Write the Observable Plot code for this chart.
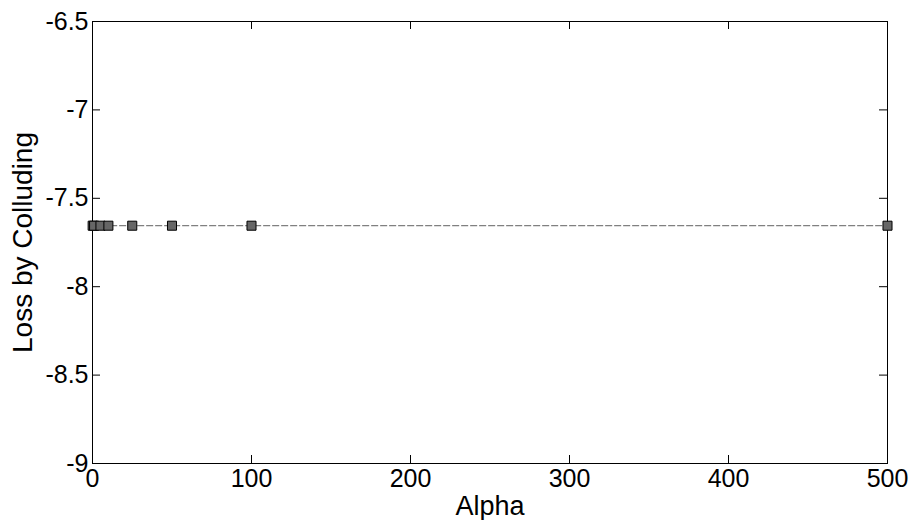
<!DOCTYPE html>
<html>
<head>
<meta charset="utf-8">
<script src="https://cdn.jsdelivr.net/npm/d3@7"></script>
<script src="https://cdn.jsdelivr.net/npm/@observablehq/plot@0.6"></script>
<style>
  html, body { margin: 0; padding: 0; background: #fff; }
  svg { font-family: "Liberation Sans", Arial, sans-serif; }
</style>
</head>
<body>
<div id="chart"></div>
<script>
const alpha = [0.1, 1, 5, 10, 25, 50, 100, 500];
const loss = [-7.655, -7.655, -7.655, -7.655, -7.655, -7.655, -7.655, -7.655];
const xTicks = [0, 100, 200, 300, 400, 500];
const yTicks = [-9, -8.5, -8, -7.5, -7, -6.5];
const xLabel = "Alpha";
const yLabel = "Loss by Colluding";

const data = alpha.map((a, i) => ({alpha: a, loss: loss[i]}));

const W = 909, H = 520;
const mL = 92, mR = 22, mT = 21, mB = 57;
const fw = W - mL - mR, fh = H - mT - mB;
const T = 8;

const chart = Plot.plot({
  width: W,
  height: H,
  marginLeft: mL,
  marginRight: mR,
  marginTop: mT,
  marginBottom: mB,
  style: {fontFamily: '"Liberation Sans", Arial, sans-serif', background: "#fff"},
  x: {domain: [0, 500]},
  y: {domain: [-9, -6.5]},
  marks: [
    Plot.axisX({ticks: xTicks, tickSize: 0, tickPadding: 6, fontSize: 25, label: null, tickFormat: d => String(d)}),
    Plot.axisY({ticks: yTicks, tickSize: 0, tickPadding: 4, fontSize: 25, label: null, tickFormat: d => String(d)}),
    Plot.tickX(xTicks, {x: d => d, insetTop: fh - T, stroke: "black"}),
    Plot.tickX(xTicks, {x: d => d, insetBottom: fh - T, stroke: "black"}),
    Plot.tickY(yTicks, {y: d => d, insetRight: fw - T, stroke: "black"}),
    Plot.tickY(yTicks, {y: d => d, insetLeft: fw - T, stroke: "black"}),
    Plot.frame({stroke: "black", strokeWidth: 1}),
    Plot.lineY(data, {x: "alpha", y: "loss", stroke: "#808080", strokeWidth: 1.3, strokeDasharray: "6,3"}),
    Plot.dot(data, {x: "alpha", y: "loss", symbol: "square", r: 5.1, fill: "#666666", stroke: "black", strokeWidth: 1}),
    Plot.text([xLabel], {frameAnchor: "bottom", dy: 43, fontSize: 27, fill: "black", lineAnchor: "middle", textAnchor: "middle"}),
    Plot.text([yLabel], {frameAnchor: "left", dx: -69, rotate: -90, fontSize: 28, fill: "black", lineAnchor: "middle", textAnchor: "middle"})
  ]
});
document.getElementById("chart").appendChild(chart);
</script>
</body>
</html>
